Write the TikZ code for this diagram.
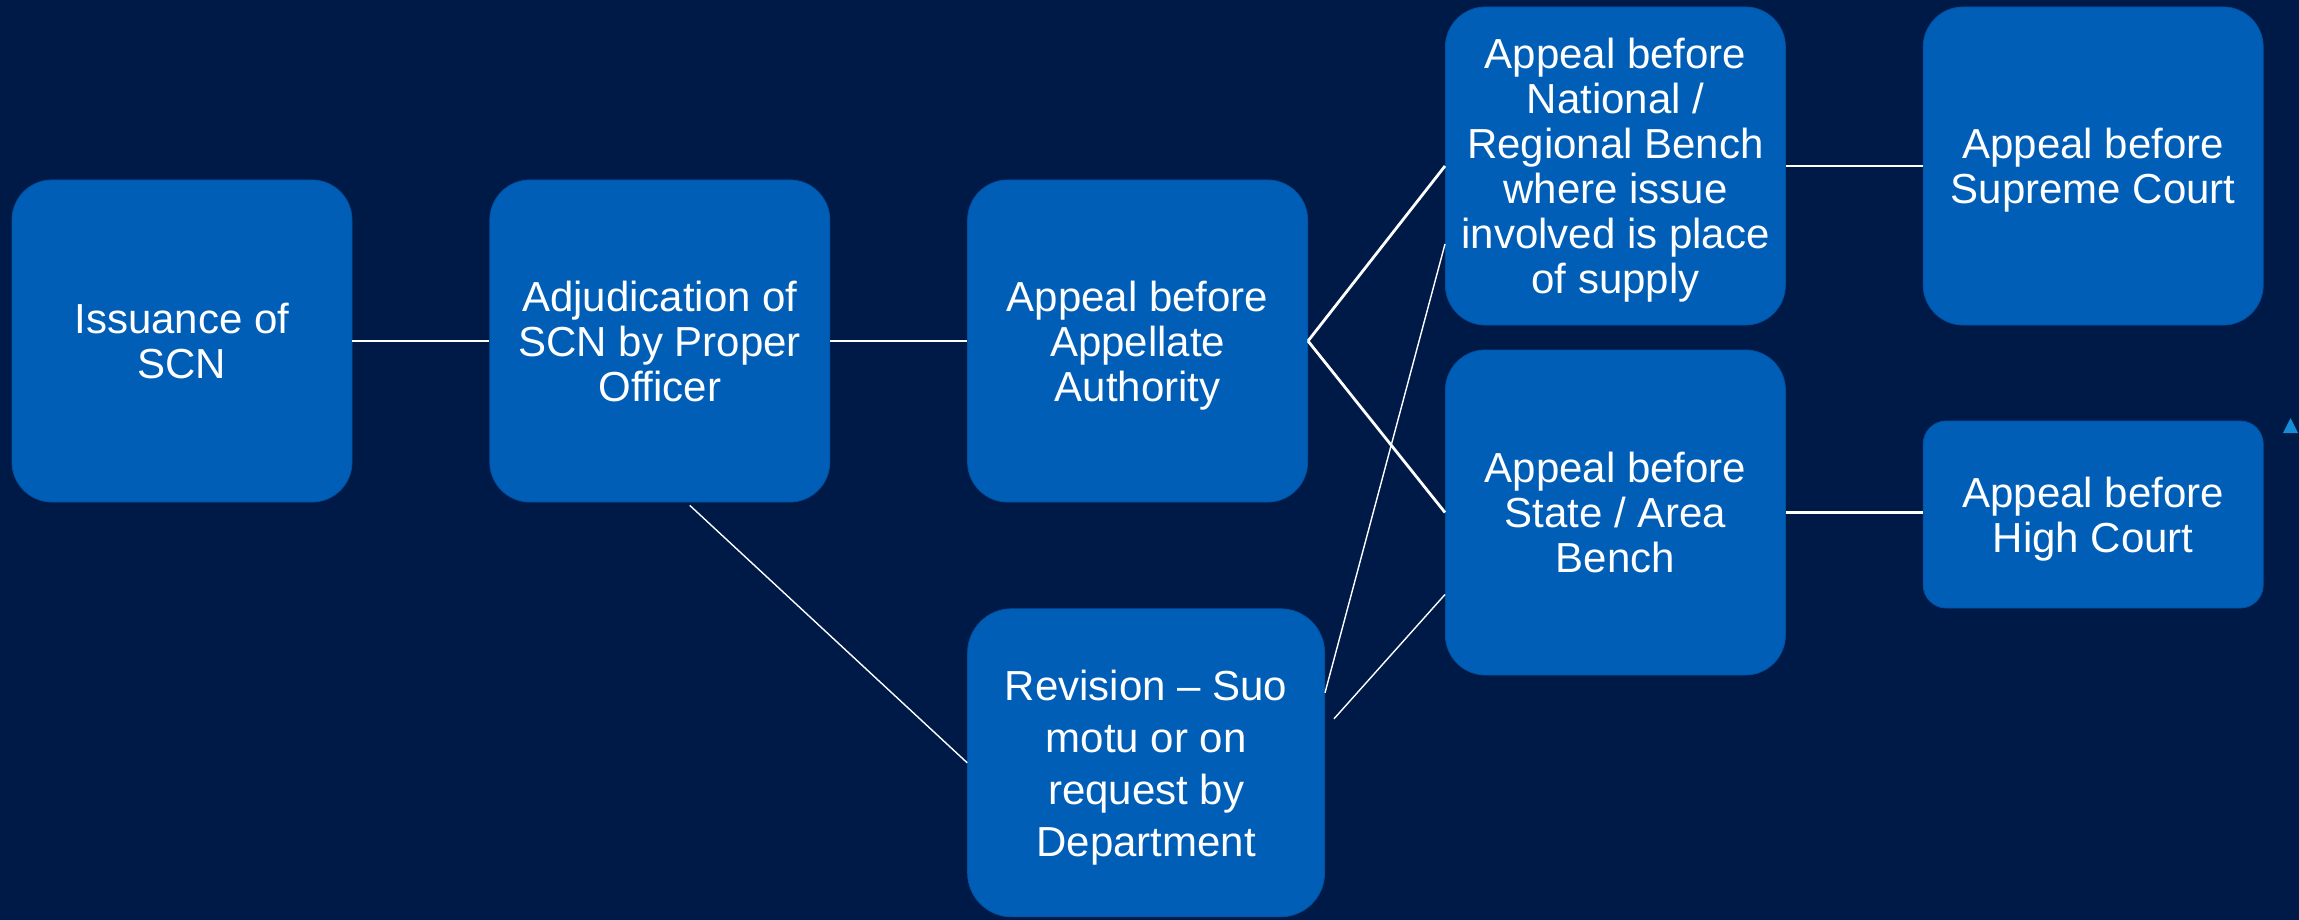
\documentclass[tikz,border=0pt]{standalone}
\usepackage{fontspec}
\setmainfont{Liberation Sans}
\usepackage{tikz}
\usetikzlibrary{positioning,calc}
\definecolor{navybg}{RGB}{0,26,72}
\definecolor{stageblue}{RGB}{0,94,183}
\definecolor{stageedge}{RGB}{0,82,160}
\definecolor{markblue}{RGB}{22,140,214}
\tikzset{
    stage/.style={
        rectangle,
        rounded corners=20pt,
        draw=stageedge,
        fill=stageblue,
        text=white,
        align=center,
        inner sep=0pt,
        text depth=0pt,
        minimum width=170pt,
        minimum height=161pt,
        font=\fontsize{21}{22.5}\selectfont,
    },
    court/.style={
        stage,
        minimum height=159pt,
    },
    every edge/.style={
        draw=white,
        line width=1.4pt,
    },
    thinlink/.style={
        draw=white,
        line width=0.7pt,
    },
    node distance=68.5pt,
  }

\begin{document}
\begin{tikzpicture}
              \fill[navybg] (0,0) rectangle (1149.5pt,-460pt);
              \useasboundingbox (0,0) rectangle (1149.5pt,-460pt);

              \node [stage] (issue) at (91pt,-170.5pt) {Issuance of\\SCN};
              \node [stage, right=of issue] (adjud) {Adjudication of\\SCN by Proper\\Officer};
              \node [stage, right=of adjud] (appellate) {Appeal before\\Appellate\\Authority};
              \node [court, right=of appellate, yshift=87.5pt] (national) {Appeal before\\National /\\Regional Bench\\where issue\\involved is place\\of supply};
              \node [court, right=of national] (supreme) {Appeal before\\Supreme Court};
              \node [stage, minimum height=162.5pt, right=of appellate, yshift=-85.75pt] (state) {Appeal before\\State / Area\\Bench};
              \node [stage, minimum height=93.5pt, rounded corners=11.5pt, right=of state, yshift=-1pt] (high) {Appeal before\\High Court};
              \node [stage, minimum width=178.5pt, minimum height=154pt, rounded corners=22pt,
                     font=\fontsize{21}{26}\selectfont, anchor=north west]
                    (revision) at ([yshift=-53pt]appellate.south west) {Revision -- Suo\\motu or on\\request by\\Department};

              \draw (issue.east) edge (adjud.west);
              \draw (adjud.east) edge (appellate.west);
              \draw (appellate.east) edge (national.west);
              \draw (appellate.east) edge (state.west);
              \draw (national.east) edge (supreme.west);
              \draw (state.east) edge (state.east -| high.west);

              \draw[thinlink] ([xshift=15pt,yshift=-1.5pt]adjud.south) -- (revision.west);
              \draw[thinlink] ([yshift=35pt]revision.east) -- ([yshift=-39pt]national.west);
              \draw[thinlink] ([xshift=4.5pt,yshift=22pt]revision.east) -- ([yshift=-41pt]state.west);

              \fill[markblue] (1141.5pt,-216.5pt) -- (1149pt,-216.5pt) -- (1145.25pt,-209pt) -- cycle;
            \end{tikzpicture}
\end{document}
